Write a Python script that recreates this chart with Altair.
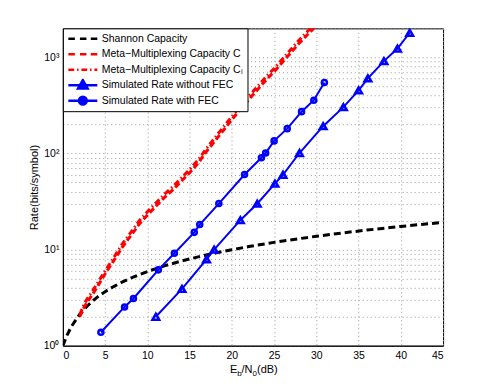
import altair as alt
import pandas as pd

FONT = "Liberation Sans"

# ---- data ----
shannon_x = [0, 0.5, 1, 2, 3, 4, 5, 6, 7, 8, 9, 10, 12, 14, 16, 18, 20, 22, 25, 28, 30, 33, 36, 40, 45]
shannon_y = [1.0, 1.29, 1.58, 2.13, 2.65, 3.16, 3.65, 4.12, 4.58, 5.03, 5.47, 5.91, 6.76, 7.58, 8.39,
             9.18, 9.96, 10.74, 11.88, 13.0, 13.75, 14.86, 15.95, 17.41, 19.2]

cap_x = [2, 2.5, 3, 3.5, 4, 5, 6, 7, 8, 9, 10, 11, 12, 13, 14, 15, 16, 17, 18, 19, 20, 21, 22, 23,
         24, 25, 26, 27, 28, 29, 30, 30.6]
cap_c = [2.0, 2.5, 2.95, 3.4, 4.0, 5.6, 7.6, 10.5, 13.8, 18.2, 22.9, 28.2, 34.7, 41.7, 51.3, 63, 79,
         105, 135, 174, 224, 288, 363, 457, 575, 708, 891, 1122, 1413, 1738, 2138, 2450]
cap_cl = [2.1, 2.7, 3.2, 3.7, 4.35, 6.0, 8.2, 11.3, 14.9, 19.7, 24.7, 30.5, 37.5, 45, 55.4, 68, 85.3,
          113, 146, 188, 242, 311, 392, 494, 621, 765, 962, 1212, 1526, 1877, 2309, 2646]

nofec_x = [11, 14.1, 17, 17.9, 21, 23, 25.1, 26.05, 28, 30.8, 33.2, 35, 36.1, 38, 39.6, 41.05]
nofec_y = [2.0, 3.9, 7.9, 10, 20.2, 30, 48.5, 60, 101, 192, 303, 453, 604, 913, 1232, 1800]

fec_x = [4.5, 7.3, 8.35, 11.3, 13.2, 15.55, 16.2, 18.46, 21.5, 23.5, 24.0, 25.0, 26.55, 28.25, 29.7, 30.95]
fec_y = [1.38, 2.53, 3.1, 6.15, 9.15, 15.1, 18.2, 30.1, 60.4, 90, 101, 135, 181, 272, 358, 547]

series = ["Shannon Capacity",
          "Meta\u2212Multiplexing Capacity C",
          "Meta\u2212Multiplexing Capacity C\u2097",
          "Simulated Rate without FEC",
          "Simulated Rate with FEC"]
colors = ["#000000", "#ff0000", "#ff0000", "#0000ff", "#0000ff"]

x_ticks = [0, 5, 10, 15, 20, 25, 30, 35, 40, 45]
y_ticks = [1, 2, 3, 4, 5, 6, 7, 8, 9, 10, 20, 30, 40, 50, 60, 70, 80, 90,
           100, 200, 300, 400, 500, 600, 700, 800, 900, 1000, 2000]

W, H = 381, 318

xs = alt.Scale(domain=[0, 45], nice=False, zero=False)
ys = alt.Scale(type="log", domain=[1, 2000], nice=False)

x_axis = alt.Axis(values=x_ticks, title=None, grid=True, gridDash=[1, 3], gridColor="#9a9a9a",
                  ticks=False, labelFont=FONT, labelFontSize=10.5, labelColor="black",
                  labelPadding=5, domainColor="black")
y_axis = alt.Axis(values=y_ticks, title="Rate(bits/symbol)", grid=True, gridDash=[1, 3],
                  gridColor="#9a9a9a", ticks=False, labelFont=FONT, labelFontSize=10.5,
                  labelColor="black", labelPadding=4, domainColor="black",
                  titleFont=FONT, titleFontSize=11, titleFontWeight="normal", titleColor="black",
                  titlePadding=4,
                  labelExpr="datum.value == 1 ? '10\u2070' : datum.value == 10 ? '10\u00b9' : "
                            "datum.value == 100 ? '10\u00b2' : datum.value == 1000 ? '10\u00b3' : ''")


def line_layer(xv, yv, color, dash, width):
    df = pd.DataFrame({"x": xv, "y": yv})
    kw = dict(color=color, strokeWidth=width, clip=True)
    if dash:
        kw["strokeDash"] = dash
    return alt.Chart(df).mark_line(**kw).encode(
        x=alt.X("x:Q", scale=xs, axis=x_axis),
        y=alt.Y("y:Q", scale=ys, axis=y_axis),
    )


def point_layer(xv, yv, shape, size):
    df = pd.DataFrame({"x": xv, "y": yv})
    return alt.Chart(df).mark_point(shape=shape, size=size, color="#0000ff", filled=False,
                                    strokeWidth=2.5, opacity=1, clip=True).encode(
        x=alt.X("x:Q", scale=xs), y=alt.Y("y:Q", scale=ys))


layers = [
    line_layer(shannon_x, shannon_y, "#000000", [7, 4], 3),
    line_layer(cap_x, cap_c, "#ff0000", [6, 3], 3),
    line_layer(cap_x, cap_cl, "#ff0000", [6, 3, 1.5, 3], 3),
    line_layer(nofec_x, nofec_y, "#0000ff", None, 2),
    line_layer(fec_x, fec_y, "#0000ff", None, 2),
    point_layer(nofec_x, nofec_y, "triangle-up", 45),
    point_layer(fec_x, fec_y, "circle", 26),
]

# ---- legend (custom line+marker symbols) ----
paths = [
    "M-1,0H-0.55M-0.2,0H0.25M0.55,0H1",
    "M-1,0H-0.55M-0.2,0H0.25M0.55,0H1",
    "M-1,0H-0.6M-0.4,0H-0.3M-0.1,0H0.3M0.5,0H0.6M0.8,0H1",
    "M-1,0H1M0,-0.36L0.33,0.22L-0.33,0.22Z",
    "M-1,0H1M0.27,0A0.27,0.27,0,1,1,-0.27,0A0.27,0.27,0,1,1,0.27,0Z",
]
leg_df = pd.DataFrame({"series": series,
                       "x": [shannon_x[0], cap_x[0], cap_x[0], nofec_x[0], fec_x[0]],
                       "y": [shannon_y[0], cap_c[0], cap_cl[0], nofec_y[0], fec_y[0]]})
legend = alt.Legend(title=None, orient="top-left", offset=0, padding=4,
                    strokeColor="black", fillColor="white",
                    labelFont=FONT, labelFontSize=10.5, labelColor="black", labelLimit=0,
                    labelOffset=3, symbolSize=841, symbolStrokeWidth=2.5, symbolOpacity=1,
                    clipHeight=13, rowPadding=2.5)
leg_layer = alt.Chart(leg_df).mark_point(size=841, filled=True, opacity=0, strokeWidth=2.5).encode(
    x=alt.X("x:Q", scale=xs),
    y=alt.Y("y:Q", scale=ys),
    shape=alt.Shape("series:N", scale=alt.Scale(domain=series, range=paths), legend=legend),
    fill=alt.Fill("series:N", scale=alt.Scale(domain=series, range=colors), legend=legend),
    stroke=alt.Stroke("series:N", scale=alt.Scale(domain=series, range=colors), legend=legend),
)
layers.append(leg_layer)

# ---- x axis title with subscripts: E_b/N_0(dB) ----
one = pd.DataFrame({"k": [0]})
pieces = [("E", 167.5, 345, 11), ("b", 174.8, 348.5, 8), ("/N", 179, 345, 11),
          ("0", 190, 348.5, 8), ("(dB)", 194.5, 345, 11)]
for txt, px, py, fs in pieces:
    layers.append(alt.Chart(one).mark_text(align="left", baseline="alphabetic", font=FONT,
                                           fontSize=fs, color="black").encode(
        x=alt.value(px), y=alt.value(py), text=alt.value(txt)))

chart = alt.layer(*layers).properties(
    width=W, height=H,
    padding={"left": 55, "top": 20, "right": 40, "bottom": 40},
    autosize=alt.AutoSizeParams(type="none"),
    background="white",
).configure_view(stroke="black", strokeWidth=1)

chart.save("out.html", embed_options={"renderer": "svg", "actions": False})
